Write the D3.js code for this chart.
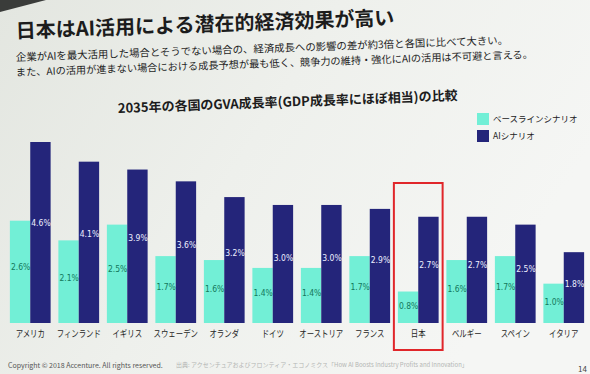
<!DOCTYPE html>
<html>
<head>
<meta charset="utf-8">
<script src="https://cdn.jsdelivr.net/npm/d3@7"></script>
<style>
  body { margin: 0; background: #eceee9; overflow: hidden; }
  svg { display: block; font-family: "Noto Sans CJK JP", "Noto Sans", sans-serif; }
</style>
</head>
<body>
<script>
// data
const countries = ["アメリカ", "フィンランド", "イギリス", "スウェーデン", "オランダ", "ドイツ",
  "オーストリア", "フランス", "日本", "ベルギー", "スペイン", "イタリア"];
const baseline = [2.6, 2.1, 2.5, 1.7, 1.6, 1.4, 1.4, 1.7, 0.8, 1.6, 1.7, 1.0];
const aiScenario = [4.6, 4.1, 3.9, 3.6, 3.2, 3.0, 3.0, 2.9, 2.7, 2.7, 2.5, 1.8];
const seriesNames = ["ベースラインシナリオ", "AIシナリオ"];

const w = 590;
const h = 374;
const colors = ["#72efd6", "#24257a"];
const labelColors = ["#13785c", "#eef0ff"];

const svg = d3.select("body").append("svg").attr("width", w).attr("height", h);

// background like the photo of the slide
const defs = svg.append("defs");
const bg = defs.append("linearGradient").attr("id", "bg")
  .attr("x1", 0).attr("y1", 0).attr("x2", 1).attr("y2", 0.4);
bg.append("stop").attr("offset", 0).attr("stop-color", "#e3e6e0");
bg.append("stop").attr("offset", 0.5).attr("stop-color", "#eef0ec");
bg.append("stop").attr("offset", 1).attr("stop-color", "#f5f6f4");
svg.append("rect").attr("width", w).attr("height", h).attr("fill", "url(#bg)");
svg.append("path").attr("d", "M0,0 L46,0 L0,12 Z").attr("fill", "#3a3c3a");

// headings (slightly tilted as in the photo)
svg.append("text")
  .attr("transform", "translate(16,38) rotate(-2)")
  .attr("font-size", 20).attr("font-weight", "bold").attr("fill", "#1c1c1c")
  .text("日本はAI活用による潜在的経済効果が高い");

svg.append("text")
  .attr("transform", "translate(16,61) rotate(-2)")
  .attr("font-size", 10.4).attr("fill", "#1e1e1e")
  .text("企業がAIを最大活用した場合とそうでない場合の、経済成長への影響の差が約3倍と各国に比べて大きい。");

svg.append("text")
  .attr("transform", "translate(16,76) rotate(-2)")
  .attr("font-size", 10.2).attr("fill", "#1e1e1e")
  .text("また、AIの活用が進まない場合における成長予想が最も低く、競争力の維持・強化にAIの活用は不可避と言える。");

svg.append("text")
  .attr("transform", "translate(118,113) rotate(-2.2)")
  .attr("font-size", 13).attr("font-weight", "bold").attr("fill", "#1c1c1c")
  .text("2035年の各国のGVA成長率(GDP成長率にほぼ相当)の比較");

// scales
const x = d3.scaleBand().domain(countries).range([6, 588]).paddingInner(0.16).paddingOuter(0.08);
const xs = d3.scaleBand().domain([0, 1]).range([0, x.bandwidth()]);
const y = d3.scaleLinear().domain([0, 4.6]).range([323, 142]);

const rows = countries.map((c, i) => ({ country: c, values: [baseline[i], aiScenario[i]] }));

const groups = svg.selectAll(".grp").data(rows).enter().append("g")
  .attr("class", "grp")
  .attr("transform", (d) => "translate(" + x(d.country) + ",0)");

groups.selectAll("rect").data((d) => d.values).enter().append("rect")
  .attr("x", (d, i) => xs(i))
  .attr("y", (d) => y(d))
  .attr("width", xs.bandwidth())
  .attr("height", (d) => y(0) - y(d))
  .attr("fill", (d, i) => colors[i]);

groups.selectAll(".val").data((d) => d.values).enter().append("text")
  .attr("class", "val")
  .attr("x", (d, i) => xs(i) + 1)
  .attr("y", (d) => y(0) - (y(0) - y(d)) * 0.56 + 4)
  .attr("font-size", 8.5)
  .attr("font-family", "DejaVu Sans Condensed, DejaVu Sans, sans-serif")
  .attr("fill", (d, i) => labelColors[i])
  .text((d) => d.toFixed(1) + "%");

// category axis
const xAxis = d3.axisBottom(x).tickSize(0).tickPadding(5);
const gx = svg.append("g").attr("transform", "translate(0,325)").call(xAxis);
gx.select(".domain").remove();
gx.selectAll("text").attr("font-size", 9.5).attr("fill", "#1e1e1e")
  .attr("font-family", "Noto Sans CJK JP, sans-serif")
  .attr("transform", "scale(0.78,1)");

// highlight box around Japan
svg.append("rect")
  .attr("x", x("日本") - 4).attr("y", 183)
  .attr("width", x.bandwidth() + 8).attr("height", 167)
  .attr("fill", "none").attr("stroke", "#e0262a").attr("stroke-width", 2);

// legend
const legend = svg.append("g").attr("transform", "translate(477,113)");
legend.selectAll("rect").data(seriesNames).enter().append("rect")
  .attr("x", 0).attr("y", (d, i) => i * 17)
  .attr("width", 12).attr("height", 12)
  .attr("fill", (d, i) => colors[i]);
legend.selectAll("text").data(seriesNames).enter().append("text")
  .attr("x", 16).attr("y", (d, i) => i * 17 + 9)
  .attr("font-size", 8.5).attr("fill", "#222")
  .text((d) => d);

// footer
svg.append("text").attr("x", 8).attr("y", 368)
  .attr("font-size", 7).attr("fill", "#555")
  .text("Copyright © 2018 Accenture. All rights reserved.");
svg.append("text").attr("x", 176).attr("y", 367)
  .attr("font-size", 6).attr("fill", "#b4b6b4")
  .text("出典: アクセンチュアおよびフロンティア・エコノミクス「How AI Boosts Industry Profits and Innovation」");
svg.append("text").attr("x", 578).attr("y", 372)
  .attr("font-size", 8).attr("fill", "#444")
  .text("14");
</script>
</body>
</html>
